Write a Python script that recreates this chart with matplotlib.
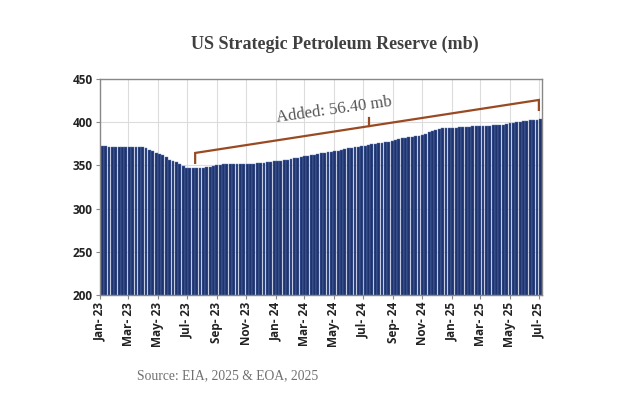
import numpy as np
import pandas as pd
import matplotlib
matplotlib.use('Agg')
import matplotlib.pyplot as plt
import matplotlib.dates as mdates

# Weekly SPR stocks (million barrels)
dates = pd.date_range('2023-01-06', '2025-07-04', freq='7D')

spr_2023 = [372.0, 372.0, 371.6, 371.6, 371.6, 371.6, 371.6, 371.6, 371.6, 371.6,
            371.2, 371.2, 371.2, 369.9, 368.0, 366.6, 364.9, 362.9, 361.9, 359.5,
            356.7, 355.4, 354.0, 351.5, 349.6, 347.5, 347.2, 346.8, 346.8, 346.8,
            347.2, 348.0, 348.6, 349.6, 350.3, 351.0, 351.3, 351.3, 351.3, 351.3,
            351.3, 351.3, 351.3, 351.4, 351.6, 351.9, 352.5, 352.6, 353.1, 353.9,
            354.4, 354.7]
spr_2024 = [354.9, 355.5, 356.0, 356.5, 357.5, 358.2, 358.8, 359.6, 360.6, 361.3,
            361.8, 362.3, 363.5, 364.2, 364.7, 365.2, 365.5, 366.1, 367.1, 367.9,
            368.6, 369.6, 370.2, 370.9, 371.6, 372.2, 372.8, 373.7, 374.4, 375.2,
            375.8, 376.2, 376.5, 377.4, 378.6, 379.6, 380.7, 381.3, 382.1, 382.9,
            383.4, 383.7, 384.5, 385.3, 386.9, 388.9, 390.0, 391.5, 392.3, 393.0,
            393.6, 393.6]
spr_2025 = [393.6, 393.8, 394.2, 394.6, 395.0, 395.0, 395.3, 395.3, 395.3, 395.3,
            395.6, 396.1, 396.4, 396.4, 396.9, 397.3, 397.6, 398.5, 399.1, 400.0,
            400.5, 401.3, 401.8, 402.1, 402.5, 402.8, 403.2]
spr = spr_2023 + spr_2024 + spr_2025

low_date = pd.Timestamp('2023-07-18')
end_date = pd.Timestamp('2025-07-01')
added = 56.40

fig = plt.figure(figsize=(6.24, 4.07), dpi=100)
ax = fig.add_axes([0.160, 0.275, 0.709, 0.531])

ax.bar(dates, spr, width=6.0, color='#1f346f', edgecolor='#5d78b4',
       linewidth=0.3, zorder=2)

ax.set_ylim(200, 450)
ax.set_yticks([200, 250, 300, 350, 400, 450])
ax.set_xlim(pd.Timestamp('2023-01-01'), pd.Timestamp('2025-07-08'))

ax.xaxis.set_major_locator(mdates.MonthLocator(bymonth=[1, 3, 5, 7, 9, 11]))
ax.xaxis.set_major_formatter(mdates.DateFormatter('%b- %y'))
plt.setp(ax.get_xticklabels(), rotation=90, ha='center')

for lab in ax.get_xticklabels() + ax.get_yticklabels():
    lab.set_fontfamily('Open Sans')
    lab.set_fontweight('bold')
    lab.set_fontsize(8.5)
    lab.set_color('#222222')

ax.grid(True, color='#dcdcdc', linewidth=0.8, zorder=0)
ax.set_axisbelow(True)
ax.tick_params(axis='both', length=3, color='#888888', pad=2)
for s in ax.spines.values():
    s.set_color('#888888')
    s.set_linewidth(1.0)

# Bracket showing the volume added since the July 2023 low
x0 = mdates.date2num(low_date)
x1 = mdates.date2num(end_date)
y0, y1 = 364.4, 425.7
xm = x0 + 0.505 * (x1 - x0)
ym = y0 + 0.505 * (y1 - y0)
brown = '#9a4a22'
ax.plot([x0, x0, x1, x1], [y0 - 11.5, y0, y1, y1 - 11.5], color=brown, lw=1.6,
        solid_joinstyle='miter', zorder=3, clip_on=False)
ax.plot([xm, xm], [ym, ym + 10], color=brown, lw=1.6, zorder=3)
ax.text(0.529, 0.856, f'Added: {added:.2f} mb', transform=ax.transAxes,
        rotation=8, ha='center', va='center', fontsize=12,
        family='Liberation Serif', color='#555555', zorder=4)

fig.text(0.537, 0.892, 'US Strategic Petroleum Reserve (mb)', ha='center', va='center',
         fontsize=13, fontweight='bold', family='Liberation Serif', color='#404040')
fig.text(0.220, 0.076, 'Source: EIA, 2025 & EOA, 2025', ha='left', va='center',
         fontsize=9.8, family='Liberation Serif', color='#707070')

fig.savefig('out.png', dpi=100)
